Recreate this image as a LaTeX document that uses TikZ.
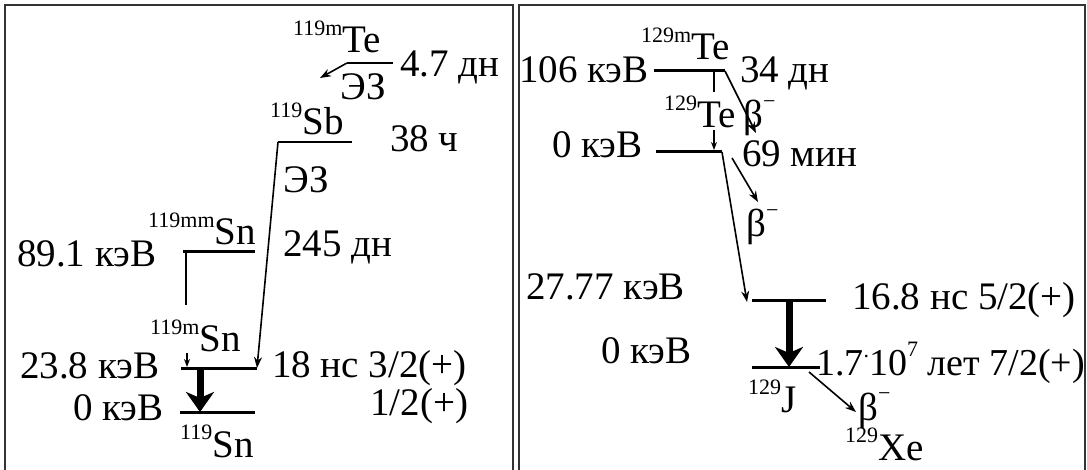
\documentclass[tikz,border=0pt]{standalone}
\usepackage{fontspec}
\setmainfont{Liberation Serif}
\usetikzlibrary{arrows.meta}
\newcommand{\isotop}[2]{\raisebox{0.45em}{\fontsize{22}{22}\selectfont #1}#2}
\newcommand{\bminus}{β\raisebox{0.5em}{\fontsize{22}{22}\selectfont −}}
\begin{document}
\begin{tikzpicture}[x=1pt,y=-1pt,
  lbl/.style={anchor=base west,inner sep=0pt,font=\fontsize{39}{44}\selectfont},
  lvl/.style={line width=3pt},
  frm/.style={line width=1.6pt,draw=black!80},
  thin/.style={line width=1.6pt,-{Stealth[length=11pt,width=8pt]}},
  small/.style={line width=1.4pt,-{Stealth[length=8pt,width=6pt]}},
  thick/.style={line width=7pt,-{Stealth[length=20pt,width=28pt,inset=6pt]}}]
\useasboundingbox (0,0) rectangle (1087,470);
% frames
\draw[frm] (5,472) -- (5,5) -- (513,5) -- (513,472);
\draw[frm] (519,472) -- (519,5) -- (1085,5) -- (1085,472);
% ---------- left panel ----------
\node[lbl] (teL) at (293,53) {\isotop{119m}{Te}};
\node[lbl] (t47) at (400,77) {4.7 дн};
\node[lbl] (ez1) at (340,100) {ЭЗ};
\node[lbl] (sbL) at (270,135) {\isotop{119}{Sb}};
\node[lbl] (t38) at (390,152) {38 ч};
\node[lbl] (ez2) at (283,193) {ЭЗ};
\node[lbl] (snmm) at (148,245) {\isotop{119mm}{Sn}};
\node[lbl] (t245) at (283,257) {245 дн};
\node[lbl] (e891) at (17,267) {89.1 кэВ};
\node[lbl] (snm) at (150,352) {\isotop{119m}{Sn}};
\node[lbl] (e238) at (20,378) {23.8 кэВ};
\node[lbl] (t18) at (272,377) {18 нс 3/2(+)};
\node[lbl] (j12) at (370,415) {1/2(+)};
\node[lbl] (e0L) at (73,420) {0 кэВ};
\node[lbl] (sn) at (180,457) {\isotop{119}{Sn}};
\coordinate (te1) at (347,63);
\coordinate (te2) at (393,63);
\coordinate (tea) at (320,78);
\coordinate (sb1) at (278,142);
\coordinate (sb2) at (352,142);
\coordinate (l891a) at (183,252);
\coordinate (l891b) at (255,252);
\coordinate (g1a) at (186,252);
\coordinate (g1b) at (186,305);
\coordinate (g2a) at (187,353);
\coordinate (g2b) at (187,367);
\coordinate (l238a) at (181,368);
\coordinate (l238b) at (257,368);
\coordinate (g3a) at (200,369);
\coordinate (g3b) at (200,412);
\coordinate (l0a) at (180,412);
\coordinate (l0b) at (255,412);
\draw[line width=2pt] (te2) -- (te1);
\draw[thin] (te1) -- (tea);
\draw[line width=2.2pt] (sb2) -- (sb1);
\draw[thin] (sb1) -- (l238b);
\draw[lvl] (l891a) -- (l891b);
\draw[line width=2pt] (g1a) -- (g1b);
\draw[small] (g2a) -- (g2b);
\draw[lvl] (l238a) -- (l238b);
\draw[thick] (g3a) -- (g3b);
\draw[lvl] (l0a) -- (l0b);
% ---------- right panel ----------
\node[lbl] (te129m) at (641,60) {\isotop{129m}{Te}};
\node[lbl] (e106) at (519,83) {106 кэВ};
\node[lbl] (t34) at (740,83) {34 дн};
\node[lbl] (te129) at (664,128) {\isotop{129}{Te}};
\node[lbl] (b1) at (743,128) {\bminus};
\node[lbl] (e0Te) at (552,158) {0 кэВ};
\node[lbl] (t69) at (742,167) {69 мин};
\node[lbl] (b2) at (746,237) {\bminus};
\node[lbl] (e2777) at (526,300) {27.77 кэВ};
\node[lbl] (t168) at (852,309) {16.8 нс 5/2(+)};
\node[lbl] (e0J) at (601,363) {0 кэВ};
\node[lbl,font=\fontsize{38}{44}\selectfont] (t17) at (816,375) {1.7\raisebox{0.45em}{\fontsize{22}{22}\selectfont.}10\raisebox{0.5em}{\fontsize{22}{22}\selectfont 7} лет 7/2(+)};
\node[lbl] (j129) at (748,412) {\isotop{129}{J}};
\node[lbl] (b3) at (858,420) {\bminus};
\node[lbl] (xe) at (845,460) {\isotop{129}{Xe}};
\coordinate (l106a) at (654,71);
\coordinate (l106b) at (725,71);
\coordinate (g4a) at (714,71);
\coordinate (g4b) at (714,92);
\coordinate (g5a) at (714,130);
\coordinate (g5b) at (714,150);
\coordinate (bt1) at (756,133);
\coordinate (l0Ta) at (656,152);
\coordinate (l0Tb) at (722,152);
\coordinate (bs1) at (732,158);
\coordinate (bt2) at (758,202);
\coordinate (l277a) at (752,301);
\coordinate (l277b) at (826,301);
\coordinate (bt3) at (747,302);
\coordinate (g6a) at (789,302);
\coordinate (g6b) at (789,367);
\coordinate (l0Ja) at (752,367);
\coordinate (l0Jb) at (820,367);
\coordinate (bs4) at (809,372);
\coordinate (bt4) at (856,412);
\draw[lvl] (l106a) -- (l106b);
\draw[line width=2pt] (g4a) -- (g4b);
\draw[small] (g5a) -- (g5b);
\draw[thin] (l106b) -- (bt1);
\draw[lvl] (l0Ta) -- (l0Tb);
\draw[thin] (l0Tb) -- (bt3);
\draw[thin] (bs1) -- (bt2);
\draw[lvl] (l277a) -- (l277b);
\draw[thick] (g6a) -- (g6b);
\draw[lvl] (l0Ja) -- (l0Jb);
\draw[thin] (bs4) -- (bt4);
\end{tikzpicture}
\end{document}
